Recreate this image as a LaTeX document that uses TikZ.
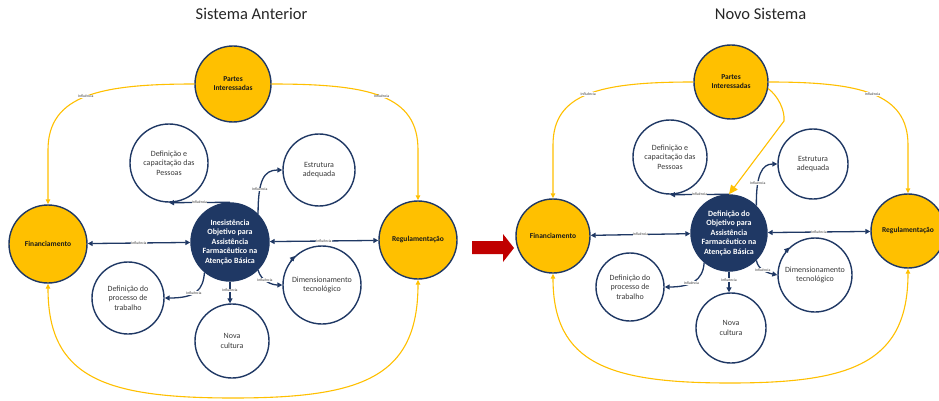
\documentclass[tikz,border=0pt]{standalone}
\usepackage{fontspec}
\setmainfont{Carlito}
\usetikzlibrary{arrows.meta}
\definecolor{gold}{HTML}{FFC000}
\definecolor{navy}{HTML}{1F3864}
\definecolor{txtgray}{HTML}{3A3A3A}
\definecolor{arrowred}{HTML}{C00000}
\tikzset{
  bubble/.style={circle, draw=navy, line width=1.4pt, inner sep=0pt, fill=white,
    text=txtgray, align=center, font=\fontsize{8}{9.5}\selectfont},
  goldbubble/.style={bubble, fill=gold, text=black!90,
    font=\fontsize{7.5}{9}\selectfont\bfseries},
  hub/.style={bubble, fill=navy, text=white, font=\fontsize{8}{9.5}\selectfont\bfseries},
  blu/.style={draw=navy, line width=1.3pt, arrows={-Triangle[length=5pt,width=5pt]}},
  blu2/.style={blu, arrows={Triangle[length=5pt,width=5pt]-Triangle[length=5pt,width=5pt]}},
  yel/.style={draw=gold, line width=1.1pt, arrows={-Triangle[length=5pt,width=4.5pt]}},
  yel2/.style={yel, arrows={Triangle[length=5pt,width=4.5pt]-Triangle[length=5pt,width=4.5pt]}},
  lbl/.style={fill=white, inner sep=0.4pt, text=txtgray, font=\fontsize{3.8}{4}\selectfont},
  heading/.style={font=\fontsize{16.5}{18}\selectfont, text=black!85},
}
\begin{document}
\begin{tikzpicture}[x=1pt, y=-1pt]
\useasboundingbox (0,0) rectangle (939,401);
\clip (0,0) rectangle (939,401);
\fill[white] (0,0) rectangle (939,401);

% ---------- headings ----------
\node[heading] (t1) at (251.5,14) {Sistema Anterior};
\node[heading] (t2) at (760.5,14) {Novo Sistema};

% ---------- left system ----------
\node[goldbubble, minimum size=76pt] (PI1) at (233,84) {Partes\\Interessadas};
\node[goldbubble, minimum size=78pt] (FI1) at (48,244) {Financiamento};
\node[goldbubble, minimum size=78pt] (RE1) at (418,240) {Regulamentação};
\node[hub, minimum size=78pt] (CE1) at (230,242) {Inesistência\\Objetivo para\\Assistência\\Farmacêutico na\\Atenção Básica};
\node[bubble, minimum size=78pt] (DC1) at (169,163) {Definição e\\capacitação das\\Pessoas};
\node[bubble, minimum size=72pt] (EA1) at (319,170) {Estrutura\\adequada};
\node[bubble, minimum size=72pt] (DP1) at (128,298) {Definição do\\processo de\\trabalho};
\node[bubble, minimum size=74pt] (NC1) at (232,341) {Nova\\cultura};
\node[bubble, minimum size=78pt] (DT1) at (322,285) {Dimensionamento\\tecnológico};

% gold influence links
\draw[yel] (PI1.west) .. controls (100,84) and (48,95) .. node[lbl, pos=0.5] {Influência} (48,150) -- (FI1.north);
\draw[yel] (PI1.east) .. controls (370,84) and (418,95) .. node[lbl, pos=0.5] {Influência} (418,150) -- (RE1.north);
\draw[yel2] (FI1.south) .. controls (48,378) and (105,398) .. (233,398) .. controls (361,398) and (418,378) .. (RE1.south);

% navy influence links
\draw[blu2] (FI1) -- node[lbl] {Influência} (CE1);
\draw[blu2] (CE1) -- node[lbl, pos=0.5] {Influência} (RE1);
\draw[blu] (CE1.north) -- node[lbl] {Influência} (DC1.south);
\draw[blu] (CE1.45) .. controls (258,180) and (264,170) .. node[lbl, pos=0.3] {Influência} (EA1.west);
\draw[blu] (CE1.-45) .. controls (261,281) and (272,285) .. node[lbl, pos=0.4] {Influência} (DT1.west);
\draw[blu] (CE1.230) .. controls (203,290) and (196,298) .. node[lbl, pos=0.55] {Influência} (DP1.east);
\draw[blu] (CE1.south) -- node[lbl, pos=0.4] {Influência} (CE1.south |- NC1.north);
\draw[blu] (DT1.142) -- (DT1.133);

% ---------- transition arrow ----------
\fill[arrowred] (472,241) -- (503,241) -- (503,234) -- (514,248) -- (503,262) -- (503,254) -- (472,254) -- cycle;

% ---------- right system ----------
\node[goldbubble, minimum size=74pt] (PI2) at (731,82) {Partes\\Interessadas};
\node[goldbubble, minimum size=74pt] (FI2) at (553,236) {Financiamento};
\node[goldbubble, minimum size=74pt] (RE2) at (908,231) {Regulamentação};
\node[hub, minimum size=76pt] (CE2) at (729,233) {Definição do\\Objetivo para\\Assistência\\Farmacêutico na\\Atenção Básica};
\node[bubble, minimum size=74pt] (DC2) at (670,157) {Definição e\\capacitação das\\Pessoas};
\node[bubble, minimum size=70pt] (EA2) at (813,164) {Estrutura\\adequada};
\node[bubble, minimum size=68pt] (DP2) at (630,287) {Definição do\\processo de\\trabalho};
\node[bubble, minimum size=70pt] (NC2) at (731,328) {Nova\\cultura};
\node[bubble, minimum size=74pt] (DT2) at (815,275) {Dimensionamento\\tecnológico};

% gold influence links
\draw[yel] (PI2.west) .. controls (600,82) and (553,93) .. node[lbl, pos=0.5] {Influência} (553,145) -- (FI2.north);
\draw[yel] (PI2.east) .. controls (860,82) and (908,93) .. node[lbl, pos=0.5] {Influência} (908,145) -- (RE2.north);
\draw[yel, arrows={-Triangle[length=9pt,width=8pt]}] (PI2.-10) .. controls (778,96) and (785,110) .. (784,121) -- (CE2.north);
\draw[yel2] (FI2.south) .. controls (553,364) and (610,383) .. (730,383) .. controls (850,383) and (908,364) .. (RE2.south);

% navy influence links
\draw[blu2] (FI2) -- node[lbl] {Influência} (CE2);
\draw[blu2] (CE2) -- node[lbl, pos=0.5] {Influência} (RE2);
\draw[blu] (CE2.north) -- node[lbl] {Influência} (DC2.south);
\draw[blu] (CE2.45) .. controls (756,175) and (762,164) .. node[lbl, pos=0.3] {Influência} (EA2.west);
\draw[blu] (CE2.-45) .. controls (758,270) and (768,273) .. node[lbl, pos=0.45] {Influência} (DT2.west);
\draw[blu] (CE2.230) .. controls (703,281) and (690,287) .. node[lbl, pos=0.55] {Influência} (DP2.east);
\draw[blu] (CE2.south) -- node[lbl, pos=0.4] {Influência} (CE2.south |- NC2.north);
\draw[blu] (DT2.142) -- (DT2.133);
\end{tikzpicture}
\end{document}
